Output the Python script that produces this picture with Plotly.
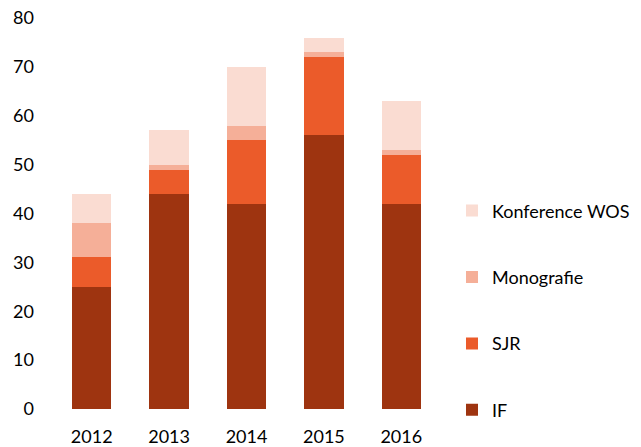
import plotly.graph_objects as go

years = ["2012", "2013", "2014", "2015", "2016"]
IF = [25, 44, 42, 56, 42]
SJR = [6, 5, 13, 16, 10]
monografie = [7, 1, 3, 1, 1]
konference = [6, 7, 12, 3, 10]

series = [
    ("IF", IF, "#9E3410", 4),
    ("SJR", SJR, "#EB5B2A", 3),
    ("Monografie", monografie, "#F5AF98", 2),
    ("Konference WOS", konference, "#FADCD2", 1),
]

fig = go.Figure()
for name, vals, color, rank in series:
    fig.add_trace(go.Bar(x=years, y=vals, name=name, marker_color=color,
                         marker_line_width=0, legendgroup=name, legendrank=rank))

fig.update_layout(
    barmode="stack",
    bargap=0.49,
    width=641, height=447,
    margin=dict(l=53, r=201, t=18, b=38, autoexpand=False),
    plot_bgcolor="white", paper_bgcolor="white",
    font=dict(family="Lato, Open Sans, sans-serif", size=18, color="#000000"),
    showlegend=True,
    legend=dict(x=1.031, xanchor="left", y=0.554, yanchor="top",
                traceorder="grouped", tracegroupgap=40,
                font=dict(size=18), itemwidth=30),
    xaxis=dict(showline=False, ticks="", showgrid=False, tickfont=dict(size=18),
               ticklabelstandoff=15),
    yaxis=dict(range=[0, 80], dtick=10, showgrid=False, showline=False,
               zeroline=False, ticks="", tickfont=dict(size=18), ticklabelstandoff=18),
)

fig.write_html("out.html", config={"displayModeBar": False},
               post_script="document.body.style.margin='0';")
